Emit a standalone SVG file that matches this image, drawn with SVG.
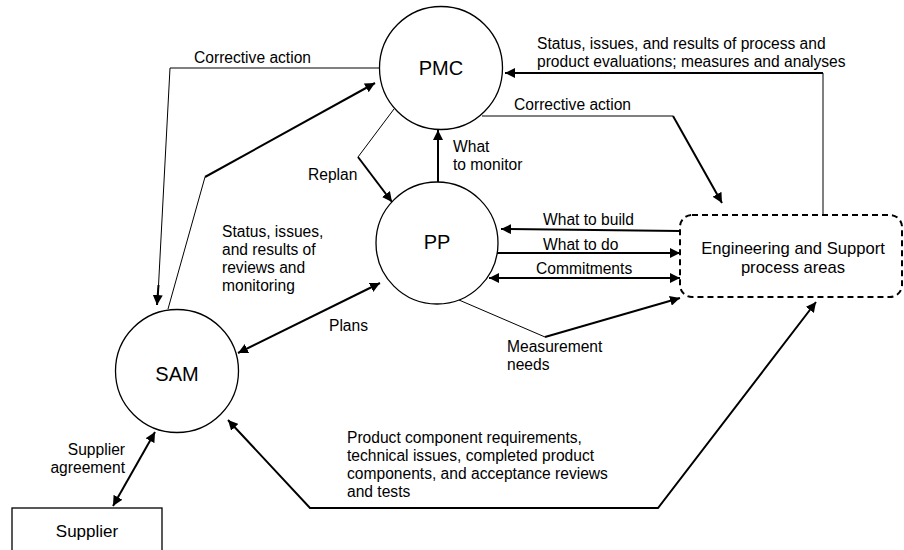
<svg xmlns="http://www.w3.org/2000/svg" width="904" height="550" viewBox="0 0 904 550">
<defs>
<marker id="ah" viewBox="0 0 10 10" refX="10" refY="5" markerWidth="10" markerHeight="10" markerUnits="userSpaceOnUse" orient="auto-start-reverse">
<path d="M0,0 L10,5 L0,10 z" fill="#000"/>
</marker>
<style>
text{font-family:"Liberation Sans",Arial,sans-serif;fill:#000}
.lbl{font-size:15.6px}
.big{font-size:20px;text-anchor:middle}
.node{fill:#fff;stroke:#000;stroke-width:1.3}
.thin{fill:none;stroke:#000;stroke-width:1}
.thick{fill:none;stroke:#000;stroke-width:2}
.arr{fill:none;stroke:#000;stroke-width:2;marker-end:url(#ah)}
.dbl{fill:none;stroke:#000;stroke-width:2;marker-start:url(#ah);marker-end:url(#ah)}
</style>
</defs>
<rect width="904" height="550" fill="#fff"/>

<g id="connectors">
<!-- Corrective action PMC -> SAM -->
<path class="thin" d="M379,68 L170,68 L158,295"/>
<path class="arr" d="M158.5,285 L157,305" stroke-width="1"/>
<!-- SAM -> PMC -->
<path class="thin" d="M168,309 L205,177"/>
<path class="arr" d="M205,177 L375,83" stroke-width="1.5"/>
<!-- Replan PMC -> PP -->
<path class="thin" d="M394,109 L358,157"/>
<path class="arr" d="M358,157 L392,202" stroke-width="1.5"/>
<!-- What to monitor PP -> PMC -->
<path class="arr" d="M438,182 L438,130"/>
<!-- Status... Eng -> PMC -->
<path class="thin" d="M823,214 L823,73"/>
<path class="arr" d="M823,73 L505,73"/>
<!-- Corrective action PMC -> Eng -->
<path class="thin" d="M482,116 L673,116"/>
<path class="arr" d="M673,116 L722,203"/>
<!-- What to build -->
<path class="arr" d="M680,231 L501,229"/>
<!-- What to do -->
<path class="arr" d="M496,253 L680,253"/>
<!-- Commitments -->
<path class="dbl" d="M489,278 L680,278"/>
<!-- Measurement needs -->
<path class="thin" d="M459,300 L545,337"/>
<path class="arr" d="M545,337 L680,298"/>
<!-- Plans -->
<path class="dbl" d="M238,353 L380,283"/>
<!-- Product component requirements -->
<path class="dbl" d="M228,420 L310,508 L658,508 L816,302"/>
<!-- Supplier agreement -->
<path class="dbl" d="M113,506 L155,432"/>
</g>

<g id="PMC">
<circle class="node" cx="441" cy="68" r="61.5"/>
<text class="big" x="441" y="74.5">PMC</text>
</g>
<g id="PP">
<circle class="node" cx="437" cy="243" r="61"/>
<text class="big" x="437" y="249">PP</text>
</g>
<g id="SAM">
<circle class="node" cx="177" cy="371" r="61.5"/>
<text class="big" x="177" y="381">SAM</text>
</g>
<g id="Eng">
<rect x="680" y="215" width="222" height="82" rx="12" fill="#fff" stroke="#000" stroke-width="2" stroke-dasharray="6,4"/>
<text x="793" y="254" font-size="16.6" text-anchor="middle">Engineering and Support</text>
<text x="793" y="272.5" font-size="16.6" text-anchor="middle">process areas</text>
</g>
<g id="Supplier">
<rect x="12" y="508" width="150" height="60" fill="#fff" stroke="#000" stroke-width="1.3"/>
<text x="87" y="537" font-size="17" text-anchor="middle">Supplier</text>
</g>

<g id="labels">
<text class="lbl" x="194" y="63">Corrective action</text>
<text class="lbl" x="537" y="49">Status, issues, and results of process and</text>
<text class="lbl" x="537" y="67">product evaluations; measures and analyses</text>
<text class="lbl" x="514" y="110">Corrective action</text>
<text class="lbl" x="453" y="152">What</text>
<text class="lbl" x="453" y="170">to monitor</text>
<text class="lbl" x="308" y="180">Replan</text>
<text class="lbl" x="543" y="225">What to build</text>
<text class="lbl" x="543" y="250">What to do</text>
<text class="lbl" x="536" y="274">Commitments</text>
<text class="lbl" x="222" y="237">Status, issues,</text>
<text class="lbl" x="222" y="255">and results of</text>
<text class="lbl" x="222" y="273">reviews and</text>
<text class="lbl" x="222" y="291">monitoring</text>
<text class="lbl" x="329" y="331">Plans</text>
<text class="lbl" x="507" y="352">Measurement</text>
<text class="lbl" x="507" y="370">needs</text>
<text class="lbl" x="347" y="443">Product component requirements,</text>
<text class="lbl" x="347" y="461">technical issues, completed product</text>
<text class="lbl" x="347" y="479">components, and acceptance reviews</text>
<text class="lbl" x="347" y="497">and tests</text>
<text class="lbl" x="125" y="455" text-anchor="end">Supplier</text>
<text class="lbl" x="125" y="473" text-anchor="end">agreement</text>
</g>
</svg>
